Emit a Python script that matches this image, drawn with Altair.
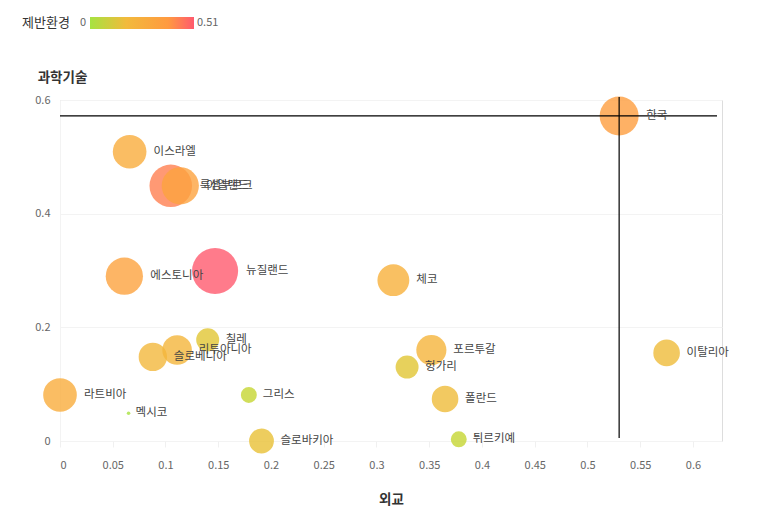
import altair as alt
import pandas as pd
import math

countries = ["룩셈부르크", "아일랜드", "한국", "이스라엘", "에스토니아", "뉴질랜드", "체코",
             "슬로베니아", "리투아니아", "칠레", "라트비아", "멕시코", "그리스", "슬로바키아",
             "포르투갈", "헝가리", "폴란드", "튀르키예", "이탈리아"]
diplomacy = [0.105, 0.114, 0.530, 0.066, 0.061, 0.147, 0.316,
             0.088, 0.111, 0.140, 0.0, 0.065, 0.179, 0.191,
             0.352, 0.329, 0.365, 0.378, 0.575]
science = [0.449, 0.449, 0.572, 0.509, 0.290, 0.299, 0.283,
           0.148, 0.160, 0.178, 0.081, 0.049, 0.081, 0.0,
           0.160, 0.130, 0.074, 0.003, 0.155]
environment = [0.435, 0.333, 0.365, 0.272, 0.333, 0.51, 0.244,
               0.193, 0.21, 0.127, 0.272, 0.003, 0.061, 0.148,
               0.218, 0.127, 0.17, 0.061, 0.17]
x_ticks = [0, 0.05, 0.1, 0.15, 0.2, 0.25, 0.3, 0.35, 0.4, 0.45, 0.5, 0.55, 0.6]
y_ticks = [0, 0.2, 0.4, 0.6]

W, H = 662, 341
X_MAX = 0.6275
ENV_MAX = 0.51
R_MAX = 26
PX_PER_UNIT = W / X_MAX

df = pd.DataFrame({"국가": countries, "외교": diplomacy, "과학기술": science, "제반환경": environment})

grad_colors = ["#a6e341", "#f2ba3c", "#ff9a40", "#ff5a6e"]
grad_stops = [0, 0.35, 0.75, 1]

x_enc = alt.X("외교:Q", scale=alt.Scale(domain=[0, X_MAX], nice=False, zero=True),
              axis=alt.Axis(values=x_ticks, format="~g", grid=False, domain=False,
                            ticks=True, tickColor="#f0f0f0", tickSize=6, labelPadding=12,
                            title="외교", titleY=51, titleFontSize=13.5, titleFontWeight="bold",
                            titleColor="#333", labelColor="#666", labelFontSize=11))
y_enc = alt.Y("과학기술:Q", scale=alt.Scale(domain=[0, 0.6], nice=False),
              axis=alt.Axis(values=y_ticks, format="~g", grid=True, gridColor="#f3f3f3",
                            domain=True, domainColor="#f3f3f3", ticks=False, labelPadding=10,
                            title="과학기술", titleAngle=0, titleX=2, titleY=-23,
                            titleAlign="center", titleBaseline="middle", titleFontSize=13.5,
                            titleFontWeight="bold", titleColor="#333",
                            labelColor="#666", labelFontSize=11))

color_scale = alt.Scale(domain=[ENV_MAX * s for s in grad_stops], range=grad_colors)
size_scale = alt.Scale(domain=[0, ENV_MAX], range=[0, math.pi * R_MAX ** 2], zero=True)

base = alt.Chart(df)

points = base.mark_circle(opacity=0.8).encode(
    x=x_enc, y=y_enc,
    color=alt.Color("제반환경:Q", scale=color_scale, legend=None),
    size=alt.Size("제반환경:Q", scale=size_scale, legend=None),
)

labels = base.transform_calculate(
    lx=f"datum['외교'] + ({R_MAX} * sqrt(datum['제반환경'] / {ENV_MAX}) + 5) / {PX_PER_UNIT}"
).mark_text(align="left", baseline="middle", fontSize=11.5, color="#444").encode(
    x=alt.X("lx:Q", scale=alt.Scale(domain=[0, X_MAX], nice=False)),
    y=alt.Y("과학기술:Q"),
    text="국가:N",
)

korea = base.transform_filter("datum['국가'] == '한국'")
vrule = korea.mark_rule(color="black", strokeWidth=1.2).encode(
    x="외교:Q", y=alt.value(-3), y2=alt.value(H - 3))
hrule = korea.mark_rule(color="black", strokeWidth=1.2).encode(
    y="과학기술:Q", x=alt.value(0), x2=alt.value(W - 5))

one = alt.Chart(pd.DataFrame({"k": [0]}))
legend_rect = one.mark_rect(
    color=alt.LinearGradient(
        gradient="linear", x1=0, x2=1, y1=0, y2=0,
        stops=[alt.GradientStop(color=c, offset=o) for c, o in zip(grad_colors, grad_stops)],
    )
).encode(x=alt.value(30), x2=alt.value(134), y=alt.value(-83), y2=alt.value(-71))
legend_title = one.mark_text(align="left", baseline="middle", fontSize=13, color="#333").encode(
    x=alt.value(-38), y=alt.value(-77), text=alt.value("제반환경"))
legend_min = one.mark_text(align="right", baseline="middle", fontSize=11, color="#666").encode(
    x=alt.value(26), y=alt.value(-77), text=alt.value("0"))
legend_max = one.mark_text(align="left", baseline="middle", fontSize=11, color="#666").encode(
    x=alt.value(137), y=alt.value(-77), text=alt.value(f"{ENV_MAX}"))

chart = alt.layer(points, vrule, hrule, labels, legend_rect, legend_title, legend_min, legend_max).properties(
    width=W, height=H,
    autosize=alt.AutoSizeParams(type="none"),
    padding={"left": 60, "top": 100, "right": 37, "bottom": 76},
).configure_view(stroke=None).configure(font="Noto Sans CJK KR")

chart.save("out.html", embed_options={"renderer": "svg", "actions": False})
